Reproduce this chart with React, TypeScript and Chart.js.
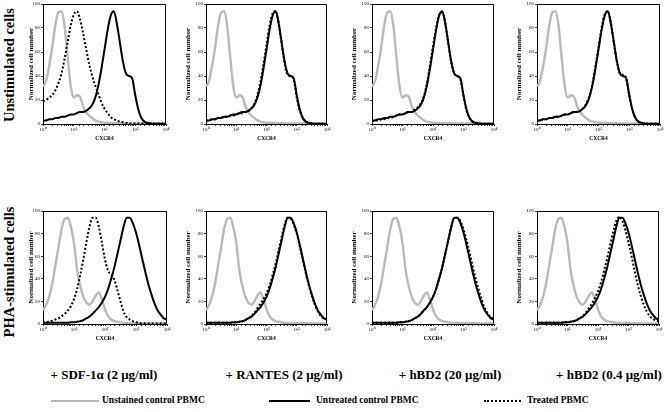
import React, { useEffect, useRef } from 'react';
import { Chart, registerables } from 'chart.js';
Chart.register(...registerables);

// Channel (fluorescence) bins, log-spaced from 10^0 to 10^4
const CHANNELS = [1, 1.26, 1.58, 2, 2.51, 3.16, 3.98, 5.01, 6.31, 7.94, 10, 12.6, 15.8, 20, 25.1, 31.6, 39.8, 50.1, 63.1, 79.4, 100, 126, 158, 200, 251, 316, 398, 501, 631, 794, 1000, 1259, 1585, 1995, 2512, 3162, 3981, 5012, 6310, 7943, 10000];

// Unstimulated cells
const UNSTAINED_UNSTIM = [31, 36, 48, 64, 82, 93, 94, 82, 56, 32, 22, 24, 23, 15, 10, 7, 5, 3, 2, 1.5, 1, 1, 0.8, 0.8, 0.7, 0.6, 0.6, 0.5, 0.5, 0.5, 0.5, 0.4, 0.4, 0.4, 0.4, 0.4, 0.3, 0.3, 0.3, 0.3, 0.3];
const UNTREATED_UNSTIM = [3, 3, 4, 4, 5, 5, 6, 6, 7, 8, 8, 9, 10, 10, 11, 13, 16, 22, 32, 46, 62, 78, 90, 94, 84, 68, 52, 42, 40, 38, 24, 12, 5, 2, 1, 0.5, 0.3, 0.3, 0.3, 0.3, 0.3];
const TREATED_SDF_UNSTIM = [19, 20, 22, 24, 28, 34, 42, 54, 68, 82, 91, 94, 88, 76, 63, 50, 40, 32, 25, 18, 13, 9, 6, 4, 3, 2, 1.5, 1, 0.5, 0.5, 0.5, 0.5, 0.5, 0.5, 0.5, 0.5, 0.5, 0.5, 0.5, 0.5, 0.5];
const TREATED_RANTES_UNSTIM = [3, 3, 4, 4, 5, 5, 6, 6, 7, 7, 8, 9, 9, 10, 11, 13, 17, 24, 35, 50, 66, 82, 92, 94, 85, 67, 50, 41, 40, 37, 22, 11, 5, 2, 1, 0.5, 0.3, 0.3, 0.3, 0.3, 0.3];
const TREATED_HBD2HI_UNSTIM = [2, 3, 3, 4, 4, 5, 5, 6, 7, 8, 8, 9, 10, 10, 12, 14, 17, 23, 34, 49, 65, 80, 91, 93, 85, 67, 51, 42, 40, 37, 23, 11, 5, 2, 1, 0.5, 0.3, 0.3, 0.3, 0.3, 0.3];
const TREATED_HBD2LO_UNSTIM = [3, 3, 4, 4, 5, 5, 6, 6, 7, 8, 8, 9, 10, 10, 11, 13, 17, 23, 33, 48, 64, 80, 91, 94, 85, 68, 52, 42, 41, 38, 24, 12, 5, 2, 1, 0.5, 0.3, 0.3, 0.3, 0.3, 0.3];

// PHA-stimulated cells
const UNSTAINED_PHA = [12, 17, 24, 36, 52, 68, 84, 93, 94, 86, 72, 48, 34, 24, 19, 17, 20, 25, 28, 22, 13, 7, 4, 2.5, 2, 1.5, 1, 1, 1, 1, 0.8, 0.8, 0.7, 0.6, 0.6, 0.5, 0.5, 0.5, 0.5, 0.5, 0.5];
const UNTREATED_PHA = [1, 1, 1, 1, 1, 1, 1, 1, 1, 1.5, 1.5, 2, 2.5, 3.5, 5, 6.5, 9, 12, 15, 19, 24, 31, 40, 50, 62, 74, 86, 94, 94, 89, 81, 70, 58, 46, 35, 26, 18, 12, 8, 5, 4];
const TREATED_SDF_PHA = [1, 1.5, 2, 3, 4, 5, 7, 9, 12, 16, 22, 31, 43, 57, 72, 86, 94, 94, 86, 72, 57, 47, 44, 39, 30, 20, 11, 6, 4, 2.5, 1.5, 1, 0.5, 0.5, 0.5, 0.5, 0.5, 0.5, 0.5, 0.5, 0.5];
const TREATED_RANTES_PHA = [1, 1, 1, 1, 1, 1, 1, 1, 1, 1.5, 1.5, 2, 2.5, 3.5, 5, 7, 10, 14, 18, 22, 27, 34, 43, 53, 65, 77, 88, 94, 93, 88, 80, 69, 57, 45, 34, 25, 17, 11, 7, 5, 4];
const TREATED_HBD2HI_PHA = [1, 1, 1, 1, 1, 1, 1, 1, 1, 1.5, 1.5, 2, 2.5, 3.5, 5, 6.5, 9, 12, 15, 19, 24, 31, 40, 50, 62, 74, 86, 94, 94, 91, 84, 74, 63, 51, 40, 30, 21, 14, 9, 6, 4];
const TREATED_HBD2LO_PHA = [1, 1, 1, 1, 1, 1, 1, 1, 1, 1.5, 1.5, 2, 2.5, 3.5, 5, 7, 10, 14, 18, 23, 29, 37, 47, 58, 70, 82, 91, 95, 91, 83, 72, 60, 47, 35, 25, 17, 11, 7, 4.5, 3, 2.5];

const Y_TICKS = [0, 20, 40, 60, 80, 100];
const X_DECADE_LABELS = ['10⁰', '10¹', '10²', '10³', '10⁴'];
const X_TITLE = 'CXCR4';
const Y_TITLE = 'Normalized cell number';
const ROW_LABELS = ['Unstimulated cells', 'PHA-stimulated cells'];
const TREATMENTS = ['+ SDF-1α (2 μg/ml)', '+ RANTES (2 μg/ml)', '+ hBD2 (20 μg/ml)', '+ hBD2 (0.4 μg/ml)'];
const LEGEND = ['Unstained control PBMC', 'Untreated control PBMC', 'Treated PBMC'];

const FONT = "'Liberation Serif', 'Times New Roman', serif";
const GRAY = '#b9b9b9';

const PANELS = [
  { L: 43, T: 3, R: 166, B: 124, W: 16, ctrl: UNSTAINED_UNSTIM, untreated: UNTREATED_UNSTIM, treated: TREATED_SDF_UNSTIM },
  { L: 206, T: 3, R: 327, B: 124, W: 22, ctrl: UNSTAINED_UNSTIM, untreated: UNTREATED_UNSTIM, treated: TREATED_RANTES_UNSTIM },
  { L: 372, T: 3, R: 494, B: 124, W: 22, ctrl: UNSTAINED_UNSTIM, untreated: UNTREATED_UNSTIM, treated: TREATED_HBD2HI_UNSTIM },
  { L: 537, T: 3, R: 660, B: 124, W: 22, ctrl: UNSTAINED_UNSTIM, untreated: UNTREATED_UNSTIM, treated: TREATED_HBD2LO_UNSTIM },
  { L: 43, T: 210, R: 167, B: 324, W: 16, ctrl: UNSTAINED_PHA, untreated: UNTREATED_PHA, treated: TREATED_SDF_PHA },
  { L: 206, T: 210, R: 327, B: 324, W: 22, ctrl: UNSTAINED_PHA, untreated: UNTREATED_PHA, treated: TREATED_RANTES_PHA },
  { L: 372, T: 210, R: 494, B: 324, W: 22, ctrl: UNSTAINED_PHA, untreated: UNTREATED_PHA, treated: TREATED_HBD2HI_PHA },
  { L: 537, T: 210, R: 659, B: 324, W: 22, ctrl: UNSTAINED_PHA, untreated: UNTREATED_PHA, treated: TREATED_HBD2LO_PHA },
];

const PAD_TOP = 3;
const PAD_RIGHT = 5;
const X_AXIS_H = 18;

const framePlugin = {
  id: 'frame',
  afterDraw(chart: any) {
    const { ctx, chartArea: a } = chart;
    ctx.save();
    ctx.strokeStyle = '#000';
    ctx.lineWidth = 1;
    ctx.beginPath();
    const l = Math.round(a.left) + 0.5, t = Math.round(a.top) + 0.5, r = Math.round(a.right) - 0.5, b = Math.round(a.bottom) - 0.5;
    ctx.moveTo(l, t);
    ctx.lineTo(r, t);
    ctx.lineTo(r, b);
    ctx.stroke();
    ctx.restore();
  },
};

function toPoints(vals: number[]) {
  return CHANNELS.map((x, i) => ({ x, y: vals[i] }));
}

function Panel({ p }: { p: any }) {
  const ref = useRef<HTMLCanvasElement>(null);
  const width = p.W + (p.R - p.L) + PAD_RIGHT;
  const height = PAD_TOP + (p.B - p.T) + X_AXIS_H;
  useEffect(() => {
    const chart = new Chart(ref.current as HTMLCanvasElement, {
      type: 'line',
      data: {
        datasets: [
          { data: toPoints(p.ctrl), borderColor: GRAY, borderWidth: 2.4, pointRadius: 0, cubicInterpolationMode: 'monotone', order: 3 },
          { data: toPoints(p.untreated), borderColor: '#000', borderWidth: 2, pointRadius: 0, cubicInterpolationMode: 'monotone', order: 2 },
          { data: toPoints(p.treated), borderColor: '#000', borderWidth: 2, borderDash: [2, 2], pointRadius: 0, cubicInterpolationMode: 'monotone', order: 1 },
        ],
      } as any,
      options: {
        animation: false,
        responsive: false,
        maintainAspectRatio: false,
        events: [],
        layout: { padding: { left: 0, right: PAD_RIGHT, top: PAD_TOP, bottom: 0 } },
        plugins: { legend: { display: false }, tooltip: { enabled: false } },
        scales: {
          x: {
            type: 'logarithmic',
            min: 1,
            max: 10000,
            afterFit: (s: any) => { s.height = X_AXIS_H; },
            ticks: {
              autoSkip: false,
              maxRotation: 0,
              minRotation: 0,
              padding: 1,
              color: '#000',
              font: { family: FONT, size: 5 },
              callback: (v: any) => {
                const e = Math.log10(Number(v));
                return Math.abs(e - Math.round(e)) < 1e-9 ? X_DECADE_LABELS[Math.round(e)] : '';
              },
            },
            grid: { drawOnChartArea: false, drawTicks: true, tickLength: 2, color: '#000', lineWidth: 0.8 },
            border: { display: true, color: '#000', width: 1 },
            title: { display: true, text: X_TITLE, color: '#000', padding: 0, font: { family: FONT, size: 5.5, weight: 'bold' } },
          },
          y: {
            min: 0,
            max: 100,
            afterFit: (s: any) => { s.width = p.W; },
            afterBuildTicks: (s: any) => { s.ticks = Y_TICKS.map((v) => ({ value: v })); },
            ticks: { padding: 1, color: '#000', font: { family: FONT, size: 5 } },
            grid: { drawOnChartArea: false, drawTicks: true, tickLength: 2, color: '#000', lineWidth: 0.8 },
            border: { display: true, color: '#000', width: 1 },
            title: { display: true, text: Y_TITLE, color: '#000', padding: 0, font: { family: FONT, size: 7, weight: 'bold' } },
          },
        },
      } as any,
      plugins: [framePlugin],
    });
    return () => chart.destroy();
  }, []);
  return (
    <canvas
      ref={ref}
      width={width}
      height={height}
      style={{ position: 'absolute', left: p.L - p.W, top: p.T - PAD_TOP, width, height }}
    />
  );
}

const rowLabelStyle = (cx: number, cy: number): React.CSSProperties => ({
  position: 'absolute',
  left: cx,
  top: cy,
  transform: 'translate(-50%, -50%) rotate(-90deg)',
  whiteSpace: 'nowrap',
  fontFamily: FONT,
  fontWeight: 'bold',
  fontSize: 14.5,
  lineHeight: 1,
  color: '#000',
});

const centeredText = (cx: number, cy: number, size: number): React.CSSProperties => ({
  position: 'absolute',
  left: cx,
  top: cy,
  transform: 'translate(-50%, -50%)',
  whiteSpace: 'nowrap',
  fontFamily: FONT,
  fontWeight: 'bold',
  fontSize: size,
  lineHeight: 1,
  color: '#000',
});

const textStyle = (left: number, cy: number, size: number): React.CSSProperties => ({
  position: 'absolute',
  left,
  top: cy,
  transform: 'translateY(-50%)',
  whiteSpace: 'nowrap',
  fontFamily: FONT,
  fontWeight: 'bold',
  fontSize: size,
  lineHeight: 1,
  color: '#000',
});

const TREAT_CX = [104, 284, 450, 609];

export default function App() {
  return (
    <div style={{ position: 'absolute', left: 0, top: 0, width: 664, height: 412, background: '#fff', overflow: 'hidden' }}>
      {PANELS.map((p, i) => <Panel key={i} p={p} />)}
      <div style={rowLabelStyle(9, 65)}>{ROW_LABELS[0]}</div>
      <div style={rowLabelStyle(9, 272)}>{ROW_LABELS[1]}</div>
      {TREATMENTS.map((t, i) => (
        <div key={i} style={centeredText(TREAT_CX[i], 374, 13)}>{t}</div>
      ))}
      <div style={{ position: 'absolute', left: 51, top: 400, width: 48, borderTop: `2.5px solid ${GRAY}` }} />
      <div style={textStyle(102, 401, 9.5)}>{LEGEND[0]}</div>
      <div style={{ position: 'absolute', left: 269, top: 400, width: 41, borderTop: '2.5px solid #000' }} />
      <div style={textStyle(316, 401, 9.5)}>{LEGEND[1]}</div>
      <div style={{ position: 'absolute', left: 484, top: 400, width: 37, borderTop: '2px dotted #000' }} />
      <div style={textStyle(527, 401, 9.5)}>{LEGEND[2]}</div>
    </div>
  );
}
